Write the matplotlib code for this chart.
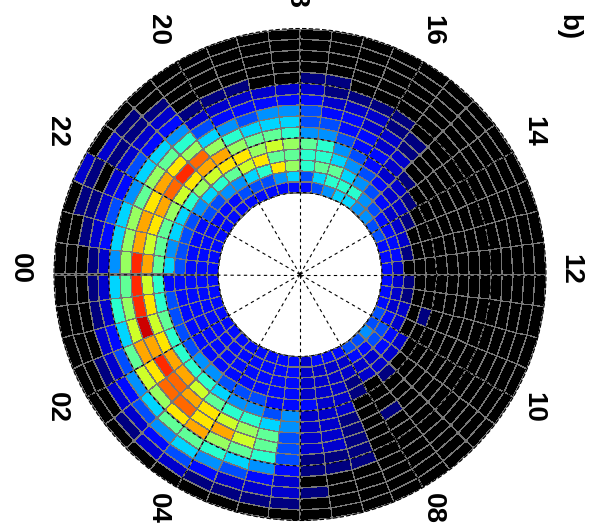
import numpy as np
import matplotlib
matplotlib.use("Agg")
import matplotlib.pyplot as plt

# one string per half-hour MLT bin, innermost ring first (15 rings)
# '.' = no data (drawn black), 0-f = level on the jet scale (0..15)
mlt_00_06 = [
    "2222269d7510...", "222236ad8610...", "2222379e9521...", "222236abb7310..",
    "222236bda9421..", "222246bcc85310.", "2222469bca7421.", "2222357aab7531.",
    "22223469b86420.", "22223468975310.", "22222357764210.", "22222443332110.",
]
mlt_06_12 = [
    "11112111100.0..", "21111111100....", "21111100000....", "21100..........",
    "3211...0.......", "32110..........", "4321...........", "3321...........",
    "321............", "211.0..........", "210............", "210............",
]
mlt_12_18 = [
    "21.............", "220............", "221............", "3210...........",
    "32110..........", "432110.........", "443211100......", "5643221100.....",
    "5654322110.....", "4675432210.....", "35766432100....", "23667433210....",
]
mlt_18_24 = [
    "2587865421.....", "24a7975421.....", "236a8753210....", "2359a864210....",
    "2347ab85310....", "22469bc864210..", "22358ada752100.", "223469cb853101.",
    "222358ba7421.01", "222357ab853100.", "2223479b85210..", "222357bd8410...",
]

hour_labels = ["00", "02", "04", "06", "08", "10", "12", "14", "16", "18", "20", "22"]
panel_label = "b)"

rows = mlt_00_06 + mlt_06_12 + mlt_12_18 + mlt_18_24
z = np.array([[np.nan if c == "." else int(c, 16) / 15 for c in s] for s in rows])

theta_edges = np.deg2rad(np.arange(len(rows) + 1) * 7.5)
r_edges = 1.5 + 0.2 * np.arange(z.shape[1] + 1)

cmap = plt.get_cmap("jet").copy()
cmap.set_bad("black")

W, H = 591, 529
fig = plt.figure(figsize=(W / 100, H / 100), dpi=100)
ax = fig.add_axes([54 / W, 8.5 / H, 492 / W, 492 / H], projection="polar")
ax.set_theta_zero_location("W")
ax.set_theta_direction(1)

ax.pcolormesh(theta_edges, r_edges, np.ma.masked_invalid(z.T), cmap=cmap,
              vmin=0, vmax=1, edgecolors="#777777", linewidth=0.25)

ax.set_ylim(0, 4.5)
ax.set_xticks(np.deg2rad(np.arange(0, 360, 30)))
ax.set_xticklabels([])
ax.set_yticks([1.5, 2.5, 3.5])
ax.set_yticklabels([])
ax.set_axisbelow(False)
ax.grid(True, color="black", linestyle=(0, (3, 3)), linewidth=0.8)
ax.tick_params(length=0)
ax.spines["polar"].set_linestyle((0, (3, 3)))
ax.spines["polar"].set_linewidth(0.8)

# hour labels around the dial, written rotated like the rest of the panel
font = dict(family="Liberation Sans", fontweight="bold", fontsize=20)
for i, lab in enumerate(hour_labels):
    ang = np.deg2rad(180 + i * 30)
    px = 295 + 275 * np.cos(ang)
    py = 269 - 276 * np.sin(ang)
    fig.text(px / W, 1 - py / H, lab, rotation=-90, ha="center", va="center", **font)

fig.text(568 / W, 1 - 27 / H, panel_label, rotation=-90, ha="center", va="center",
         **font)

fig.savefig("out.png", dpi=100)
